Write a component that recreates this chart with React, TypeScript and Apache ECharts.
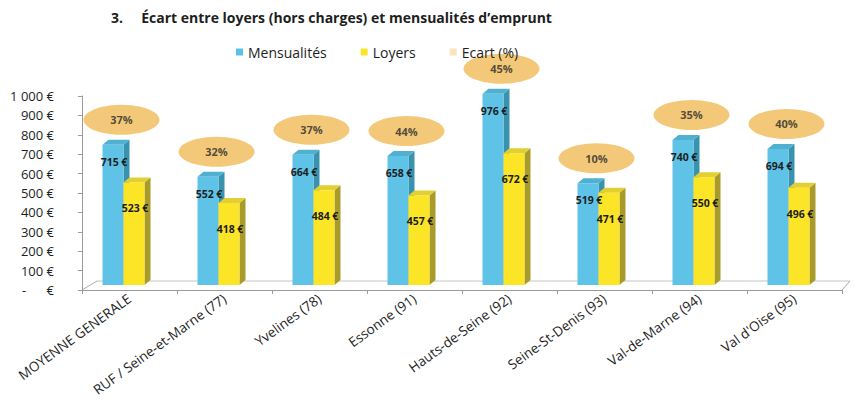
import React, { useEffect, useRef } from "react";
import * as echarts from "echarts";

const categories = [
  "MOYENNE GENERALE",
  "RUF / Seine-et-Marne (77)",
  "Yvelines (78)",
  "Essonne (91)",
  "Hauts-de-Seine (92)",
  "Seine-St-Denis (93)",
  "Val-de-Marne (94)",
  "Val d'Oise (95)",
];
const mensualites = [715, 552, 664, 658, 976, 519, 740, 694];
const loyers = [523, 418, 484, 457, 672, 471, 550, 496];
const ecart = [37, 32, 37, 44, 45, 10, 35, 40];
const yTickLabels = ["-      €", "100 €", "200 €", "300 €", "400 €", "500 €", "600 €", "700 €", "800 €", "900 €", "1 000 €"];

const FONT = "Open Sans";
const TXT = "#1e1e1e";

function make3DBar(off0: number, off1: number, front: string, side: string, top: string, labelDy: number) {
  return (params: any, api: any) => {
    const i = api.value(0);
    const v = api.value(1);
    const t = api.coord([i, v]);
    const b = api.coord([i, 0]);
    const x0 = t[0] + off0;
    const x1 = t[0] + off1;
    const dx = 6;
    const dy = 5;
    return {
      type: "group",
      children: [
        {
          type: "polygon",
          shape: { points: [[x1, b[1]], [x1 + dx, b[1] - dy], [x1 + dx, t[1] - dy], [x1, t[1]]] },
          style: { fill: side },
        },
        {
          type: "polygon",
          shape: { points: [[x0, t[1]], [x0 + dx, t[1] - dy], [x1 + dx, t[1] - dy], [x1, t[1]]] },
          style: { fill: top },
        },
        {
          type: "rect",
          shape: { x: x0, y: t[1], width: x1 - x0, height: b[1] - t[1] },
          style: { fill: front },
        },
        {
          type: "text",
          z2: 100,
          style: {
            text: v + " €",
            x: (x0 + x1) / 2 + 1,
            y: t[1] + labelDy,
            align: "center",
            verticalAlign: "middle",
            fontFamily: FONT,
            fontWeight: "bold",
            fontSize: 10.5,
            fill: TXT,
          },
        },
      ],
    };
  };
}

export default function App() {
  const ref = useRef<HTMLDivElement>(null);
  useEffect(() => {
    document.body.style.margin = "0";
    const chart = echarts.init(ref.current!, null, { renderer: "svg" });
    chart.setOption({
      animation: false,
      backgroundColor: "#ffffff",
      textStyle: { fontFamily: FONT },
      title: {
        text: "3.     Écart entre loyers (hors charges) et mensualités d’emprunt",
        left: 106,
        top: 5,
        textStyle: { fontFamily: FONT, fontSize: 14, fontWeight: "bold", color: TXT },
      },
      legend: {
        left: 231,
        top: 40,
        itemWidth: 7,
        itemHeight: 7,
        itemGap: 34,
        textStyle: { fontFamily: FONT, fontSize: 14, color: TXT },
        data: [
          { name: "Mensualités", icon: "rect" },
          { name: "Loyers", icon: "rect" },
          { name: "Ecart (%)", icon: "rect", itemStyle: { color: "#F7DDAE" } },
        ],
      },
      grid: [
        { left: 82, right: 12, top: 96, bottom: 115 },
        { left: 82, right: 12, top: 89, bottom: 120 },
      ],
      xAxis: [
        {
          type: "category",
          gridIndex: 0,
          data: categories,
          axisLine: { lineStyle: { color: "#9a9a9a" } },
          axisTick: { show: true, length: 4, lineStyle: { color: "#9a9a9a" } },
          axisLabel: { interval: 0, rotate: 36, fontSize: 13.5, color: TXT, margin: 7, fontFamily: FONT },
        },
        { type: "category", gridIndex: 1, data: categories, show: false },
      ],
      yAxis: [
        {
          type: "value",
          gridIndex: 0,
          min: 0,
          max: 1000,
          interval: 100,
          axisLine: { show: true, lineStyle: { color: "#9a9a9a" } },
          axisTick: { show: true, length: 4, lineStyle: { color: "#9a9a9a" } },
          splitLine: { show: false },
          axisLabel: {
            fontSize: 13,
            color: TXT,
            margin: 28,
            fontFamily: FONT,
            formatter: (v: number) => yTickLabels[Math.round(v / 100)],
          },
        },
        { type: "value", gridIndex: 1, min: 0, max: 1000, show: false },
      ],
      graphic: [
        { type: "line", shape: { x1: 82, y1: 290, x2: 97, y2: 281 }, style: { stroke: "#a8a8a8", lineWidth: 1 } },
        { type: "line", shape: { x1: 97, y1: 281, x2: 850, y2: 281 }, style: { stroke: "#c4c4c4", lineWidth: 1 } },
        { type: "line", shape: { x1: 842, y1: 290, x2: 850, y2: 281 }, style: { stroke: "#a8a8a8", lineWidth: 1 } },
      ],
      series: [
        {
          name: "Mensualités",
          type: "custom",
          xAxisIndex: 1,
          yAxisIndex: 1,
          itemStyle: { color: "#5BC2E7" },
          encode: { x: 0, y: 1 },
          data: mensualites.map((v, i) => [i, v]),
          renderItem: make3DBar(-27, -6, "#5EC3E6", "#3A93AE", "#4FB1CF", 17),
        },
        {
          name: "Loyers",
          type: "custom",
          xAxisIndex: 1,
          yAxisIndex: 1,
          itemStyle: { color: "#F9E52B" },
          encode: { x: 0, y: 1 },
          data: loyers.map((v, i) => [i, v]),
          renderItem: make3DBar(-6, 15, "#FCE426", "#A99B2A", "#E2CF33", 26),
        },
        {
          name: "Ecart (%)",
          type: "scatter",
          xAxisIndex: 1,
          yAxisIndex: 1,
          symbol: "circle",
          symbolSize: [76, 30],
          symbolOffset: [-8, -25],
          itemStyle: { color: "#F0BC58" },
          data: mensualites.map((v, i) => [i, v]),
          label: {
            show: true,
            position: "inside",
            fontFamily: FONT,
            fontWeight: "bold",
            fontSize: 11,
            color: "#2a2a2a",
            formatter: (p: any) => ecart[p.dataIndex] + "%",
          },
        },
      ],
    });
    return () => chart.dispose();
  }, []);
  return <div ref={ref} style={{ width: 854, height: 405 }} />;
}
